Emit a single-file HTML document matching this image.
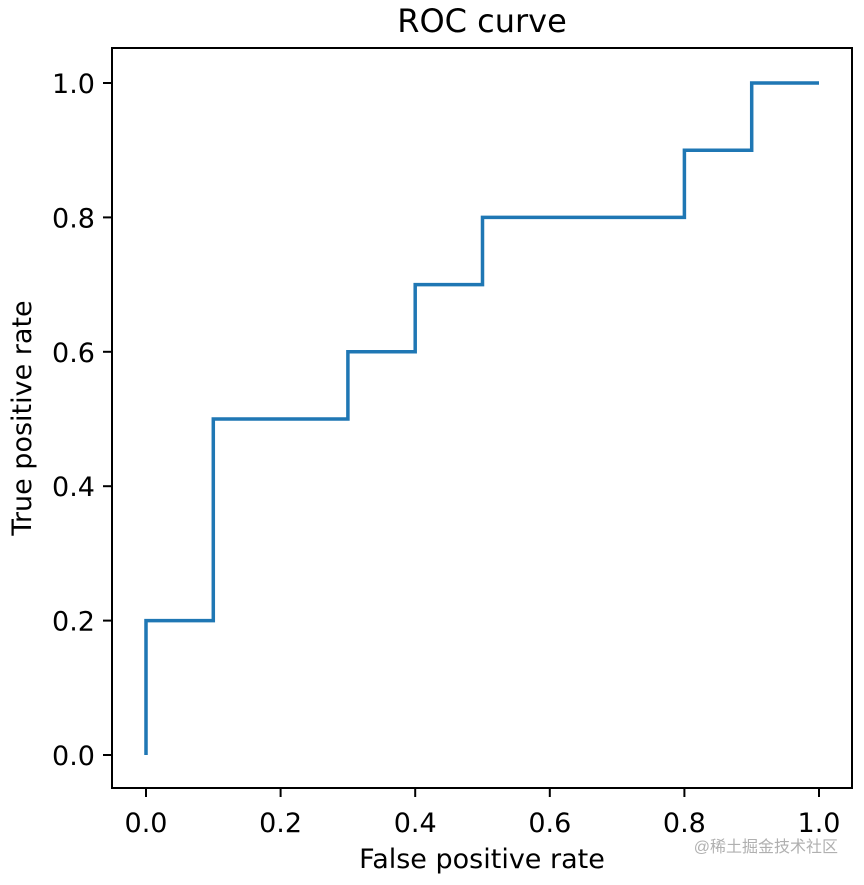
<!DOCTYPE html>
<html><head><meta charset="utf-8"><style>
html,body{margin:0;padding:0;background:#fff;}
svg text{font-family:"DejaVu Sans","Liberation Sans",sans-serif;fill:#000;}
</style></head><body>
<svg id="chart" width="864" height="880" xmlns="http://www.w3.org/2000/svg">
<text x="482" y="32" font-size="32" text-anchor="middle">ROC curve</text>
<rect x="112" y="48" width="740" height="740" fill="none" stroke="#000" stroke-width="2"/>
<g id="xticks"></g>
<g id="yticks"></g>
<text x="482" y="868" font-size="27" text-anchor="middle">False positive rate</text>
<text x="0" y="0" font-size="27" text-anchor="middle" transform="translate(31,418) rotate(-90)">True positive rate</text>
<path id="curve" fill="none" stroke="#1f77b4" stroke-width="3.5"/>
<text x="838" y="852" font-size="16" text-anchor="end" style="fill:#b0b0b0;font-family:'Liberation Sans','Noto Sans CJK SC',sans-serif">@稀土掘金技术社区</text>
</svg>
<script>
const fpr = [0, 0, 0.1, 0.1, 0.3, 0.3, 0.4, 0.4, 0.5, 0.5, 0.8, 0.8, 0.9, 0.9, 1.0];
const tpr = [0, 0.2, 0.2, 0.5, 0.5, 0.6, 0.6, 0.7, 0.7, 0.8, 0.8, 0.9, 0.9, 1.0, 1.0];
const xTickValues = [0, 0.2, 0.4, 0.6, 0.8, 1.0];
const yTickValues = [0, 0.2, 0.4, 0.6, 0.8, 1.0];
const xTickLabels = ["0.0", "0.2", "0.4", "0.6", "0.8", "1.0"];
const yTickLabels = ["0.0", "0.2", "0.4", "0.6", "0.8", "1.0"];

function xs(v){return 146 + v*673;}
function ys(v){return 755 - v*672;}
const NS="http://www.w3.org/2000/svg";
const gx=document.getElementById('xticks');
xTickValues.forEach((v,i)=>{
  const l=document.createElementNS(NS,'line');
  l.setAttribute('x1',xs(v));l.setAttribute('x2',xs(v));l.setAttribute('y1',788);l.setAttribute('y2',797);
  l.setAttribute('stroke','#000');l.setAttribute('stroke-width','2');
  
  
  gx.appendChild(l);
  const t=document.createElementNS(NS,'text');
  t.setAttribute('x',xs(v));t.setAttribute('y',832);t.setAttribute('font-size','27');t.setAttribute('text-anchor','middle');
  t.textContent=xTickLabels[i];
  
  
  gx.appendChild(t);
});
const gy=document.getElementById('yticks');
yTickValues.forEach((v,i)=>{
  const l=document.createElementNS(NS,'line');
  l.setAttribute('x1',103);l.setAttribute('x2',112);l.setAttribute('y1',ys(v));l.setAttribute('y2',ys(v));
  l.setAttribute('stroke','#000');l.setAttribute('stroke-width','2');
  
  
  gy.appendChild(l);
  const t=document.createElementNS(NS,'text');
  t.setAttribute('x',95);t.setAttribute('y',ys(v)+10);t.setAttribute('font-size','27');t.setAttribute('text-anchor','end');
  t.textContent=yTickLabels[i];
  
  
  gy.appendChild(t);
});
document.getElementById('curve').setAttribute('d', fpr.map((v,i)=>(i?'L':'M')+xs(v)+','+ys(tpr[i])).join(' '));
</script>
</body></html>
